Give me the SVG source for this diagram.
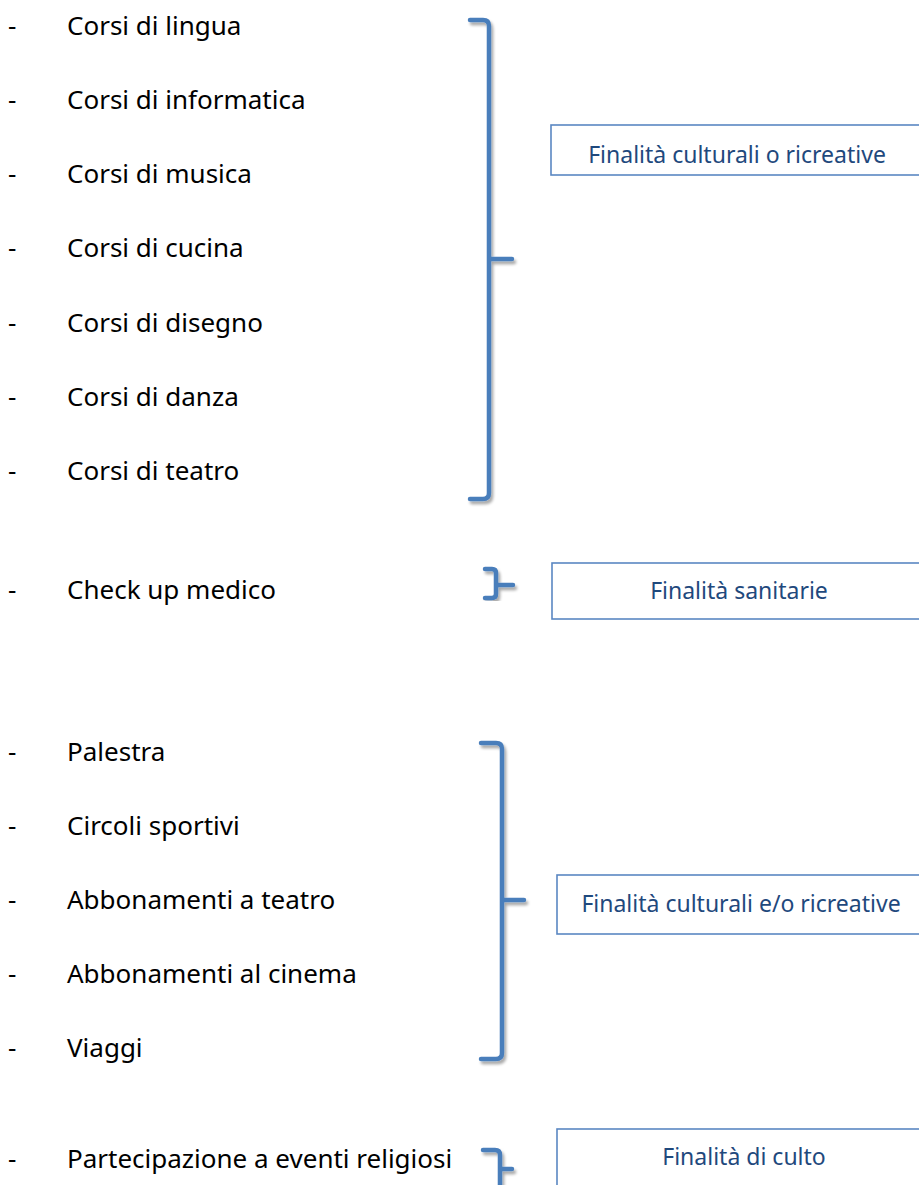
<svg xmlns="http://www.w3.org/2000/svg" width="919" height="1185" viewBox="0 0 919 1185">
<defs>
<filter id="sh" x="-50%" y="-10%" width="200%" height="120%">
<feGaussianBlur in="SourceAlpha" stdDeviation="1.5"/>
<feOffset dx="1.5" dy="2.5" result="b"/>
<feComponentTransfer><feFuncA type="linear" slope="0.35"/></feComponentTransfer>
<feMerge><feMergeNode/><feMergeNode in="SourceGraphic"/></feMerge>
</filter>
</defs>
<style>
.item{font-family:"Noto Sans",sans-serif;font-size:26px;fill:#000}
.br{fill:none;stroke:#4a7ebb;stroke-width:4.5;stroke-linecap:round;stroke-linejoin:round;filter:url(#sh)}
.box{fill:#fff;stroke:#5a87c2;stroke-width:1.6}
.lbl{font-family:"Noto Sans",sans-serif;font-size:23px;fill:#1f497d;text-anchor:middle}
</style>
<rect width="919" height="1185" fill="#fff"/>
<g id="items">
<text class="item" x="8" y="35">-</text><text class="item" x="67" y="35">Corsi di lingua</text>
<text class="item" x="8" y="109">-</text><text class="item" x="67" y="109">Corsi di informatica</text>
<text class="item" x="8" y="183">-</text><text class="item" x="67" y="183">Corsi di musica</text>
<text class="item" x="8" y="257">-</text><text class="item" x="67" y="257">Corsi di cucina</text>
<text class="item" x="8" y="332">-</text><text class="item" x="67" y="332">Corsi di disegno</text>
<text class="item" x="8" y="406">-</text><text class="item" x="67" y="406">Corsi di danza</text>
<text class="item" x="8" y="480">-</text><text class="item" x="67" y="480">Corsi di teatro</text>
<text class="item" x="8" y="599">-</text><text class="item" x="67" y="599">Check up medico</text>
<text class="item" x="8" y="761">-</text><text class="item" x="67" y="761">Palestra</text>
<text class="item" x="8" y="835">-</text><text class="item" x="67" y="835">Circoli sportivi</text>
<text class="item" x="8" y="909">-</text><text class="item" x="67" y="909">Abbonamenti a teatro</text>
<text class="item" x="8" y="983">-</text><text class="item" x="67" y="983">Abbonamenti al cinema</text>
<text class="item" x="8" y="1057">-</text><text class="item" x="67" y="1057">Viaggi</text>
<text class="item" x="8" y="1168">-</text><text class="item" x="67" y="1168">Partecipazione a eventi religiosi</text>
</g>
<g id="connectors">
<path class="br" d="M470 20 L483 20 Q489 20 489 26 L489 493 Q489 499 483 499 L470 499 M489 259 L512 259"/>
<path class="br" d="M485 569 L492 569 Q496 569 496 573 L496 594 Q496 598 492 598 L485 598 M496 585 L513 585"/>
<path class="br" d="M481 743 L496 743 Q502 743 502 749 L502 1053 Q502 1059 496 1059 L481 1059 M502 900 L524 900"/>
<path class="br" d="M483 1150 L495 1150 Q500 1150 500 1155 L500 1190 M500 1169 L512 1169"/>
</g>
<g id="box1"><rect class="box" x="551" y="125" width="380" height="50"/><text class="lbl" x="737" y="163">Finalità culturali o ricreative</text></g>
<g id="box2"><rect class="box" x="552" y="563" width="380" height="56"/><text class="lbl" x="739" y="599">Finalità sanitarie</text></g>
<g id="box3"><rect class="box" x="557" y="875" width="380" height="59"/><text class="lbl" x="741" y="912">Finalità culturali e/o ricreative</text></g>
<g id="box4"><rect class="box" x="557" y="1129" width="380" height="70"/><text class="lbl" x="744" y="1165">Finalità di culto</text></g>
</svg>
